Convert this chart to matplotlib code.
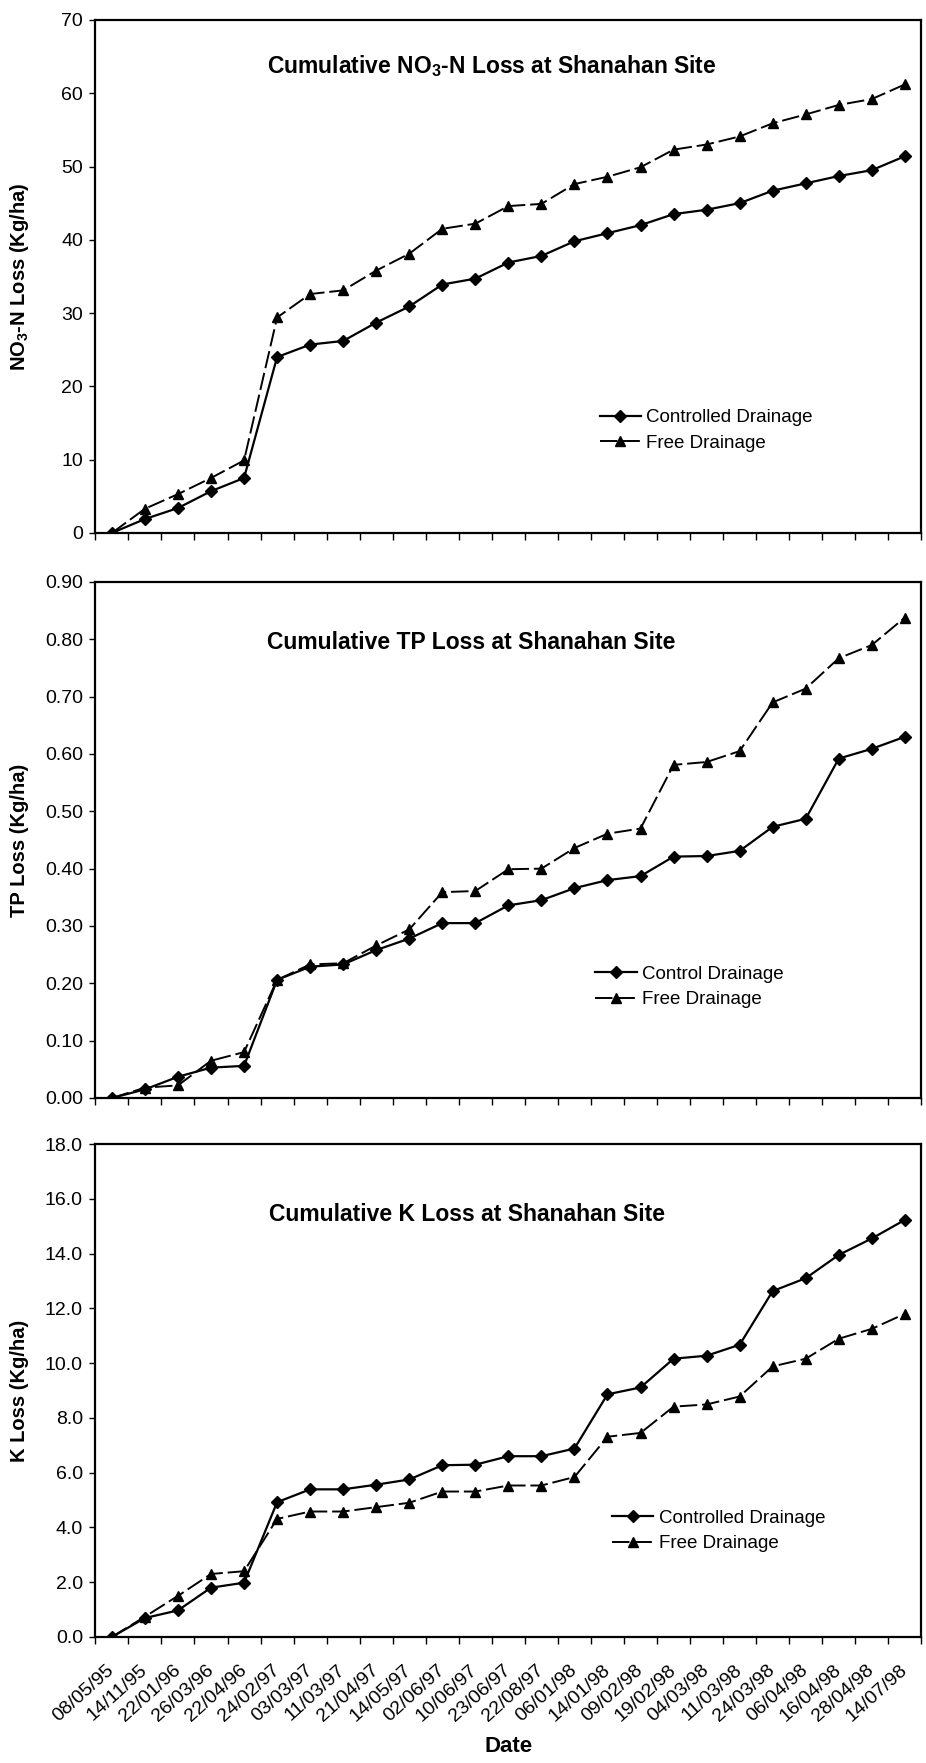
#!/usr/bin/env python3
"""
Cumulative NO3-N, TP and K losses at the Shanahan site,
controlled vs free drainage, stacked in three panels.
"""

import matplotlib
matplotlib.use('Agg')
import matplotlib.pyplot as plt

plt.rcParams['font.family'] = ['Liberation Sans', 'DejaVu Sans']
plt.rcParams['mathtext.default'] = 'regular'

dates = ['08/05/95', '14/11/95', '22/01/96', '26/03/96', '22/04/96',
         '24/02/97', '03/03/97', '11/03/97', '21/04/97', '14/05/97',
         '02/06/97', '10/06/97', '23/06/97', '22/08/97', '06/01/98',
         '14/01/98', '09/02/98', '19/02/98', '04/03/98', '11/03/98',
         '24/03/98', '06/04/98', '16/04/98', '28/04/98', '14/07/98']

no3_controlled = [0.0, 1.9, 3.4, 5.7, 7.5, 24.0, 25.7, 26.2, 28.7, 30.9,
                  33.9, 34.7, 36.9, 37.8, 39.8, 40.9, 42.0, 43.5, 44.1,
                  45.0, 46.7, 47.7, 48.7, 49.5, 51.4]
no3_free = [0.0, 3.3, 5.3, 7.5, 9.9, 29.4, 32.6, 33.1, 35.8, 38.1, 41.5,
            42.2, 44.6, 44.9, 47.6, 48.6, 49.9, 52.3, 53.0, 54.1, 55.9,
            57.1, 58.4, 59.2, 61.2]

tp_controlled = [0.000, 0.015, 0.037, 0.053, 0.056, 0.206, 0.229, 0.233,
                 0.258, 0.278, 0.305, 0.305, 0.336, 0.345, 0.366, 0.380,
                 0.387, 0.421, 0.422, 0.431, 0.473, 0.487, 0.592, 0.609,
                 0.630]
tp_free = [0.000, 0.018, 0.022, 0.065, 0.080, 0.206, 0.233, 0.235, 0.266,
           0.294, 0.359, 0.361, 0.399, 0.400, 0.436, 0.461, 0.470, 0.581,
           0.586, 0.605, 0.690, 0.714, 0.767, 0.790, 0.838]

k_controlled = [0.0, 0.69, 0.97, 1.80, 1.98, 4.92, 5.39, 5.39, 5.56, 5.75,
                6.27, 6.29, 6.60, 6.60, 6.88, 8.86, 9.11, 10.16, 10.27,
                10.67, 12.63, 13.10, 13.95, 14.55, 15.23]
k_free = [0.0, 0.74, 1.50, 2.30, 2.40, 4.31, 4.58, 4.58, 4.74, 4.90, 5.31,
          5.31, 5.53, 5.53, 5.84, 7.31, 7.45, 8.41, 8.49, 8.78, 9.88,
          10.16, 10.89, 11.25, 11.80]

panels = [
    {'controlled': no3_controlled, 'free': no3_free,
     'title': 'Cumulative NO$_3$-N Loss at Shanahan Site',
     'ylabel': 'NO$_3$-N Loss (Kg/ha)', 'ylim': (0, 70), 'step': 10,
     'fmt': '{:.0f}', 'label1': 'Controlled Drainage',
     'rect': [0.103, 0.6977, 0.892, 0.291],
     'title_xy': (0.48, 0.91), 'legend_xy': (0.59, 0.20)},
    {'controlled': tp_controlled, 'free': tp_free,
     'title': 'Cumulative TP Loss at Shanahan Site',
     'ylabel': 'TP Loss (Kg/ha)', 'ylim': (0, 0.9), 'step': 0.1,
     'fmt': '{:.2f}', 'label1': 'Control Drainage',
     'rect': [0.103, 0.3772, 0.892, 0.2927],
     'title_xy': (0.455, 0.882), 'legend_xy': (0.585, 0.215)},
    {'controlled': k_controlled, 'free': k_free,
     'title': 'Cumulative K Loss at Shanahan Site',
     'ylabel': 'K Loss (Kg/ha)', 'ylim': (0, 18), 'step': 2,
     'fmt': '{:.1f}', 'label1': 'Controlled Drainage',
     'rect': [0.103, 0.0715, 0.892, 0.2796],
     'title_xy': (0.45, 0.858), 'legend_xy': (0.605, 0.215)},
]

fig = plt.figure(figsize=(9.26, 17.63), dpi=100)
x = list(range(len(dates)))

for i, p in enumerate(panels):
    ax = fig.add_axes(p['rect'])
    ax.plot(x, p['controlled'], color='black', lw=1.6, marker='D',
            markersize=6.5, markerfacecolor='black', label=p['label1'])
    ax.plot(x, p['free'], color='black', lw=1.4, dashes=(9, 2.5),
            marker='^', markersize=7.5, markerfacecolor='black',
            label='Free Drainage')

    lo, hi = p['ylim']
    ax.set_ylim(lo, hi)
    ax.set_xlim(-0.5, len(dates) - 0.5)
    n = int(round((hi - lo) / p['step']))
    yt = [lo + k * p['step'] for k in range(n + 1)]
    ax.set_yticks(yt)
    ax.set_yticklabels([p['fmt'].format(v) for v in yt], fontsize=14)
    ax.tick_params(axis='y', direction='out', length=4, width=1, pad=5)

    # category boundaries carry the tick marks, labels sit on the centres
    ax.set_xticks([v - 0.5 for v in range(len(dates) + 1)], minor=True)
    ax.set_xticks(x)
    ax.tick_params(axis='x', which='minor', direction='out', length=5,
                   width=1)
    ax.tick_params(axis='x', which='major', length=0, pad=22)
    if i == len(panels) - 1:
        ax.set_xticklabels(dates, rotation=42, ha='right', va='center',
                           rotation_mode='anchor', fontsize=14)
        ax.set_xlabel('Date', fontsize=16, fontweight='bold', labelpad=8)
    else:
        ax.set_xticklabels([])

    for s in ax.spines.values():
        s.set_linewidth(1.6)

    ax.set_ylabel(p['ylabel'], fontsize=14.5, fontweight='bold',
                  va='center')
    ax.yaxis.set_label_coords(-0.092, 0.5)
    ax.text(p['title_xy'][0], p['title_xy'][1], p['title'],
            transform=ax.transAxes, ha='center', va='center',
            fontsize=16.5, fontweight='bold')
    ax.legend(loc='center left', bbox_to_anchor=p['legend_xy'],
              frameon=False, fontsize=13.5, handlelength=2.2,
              handletextpad=0.3, labelspacing=0.45)

fig.savefig('out.png', dpi=100)
